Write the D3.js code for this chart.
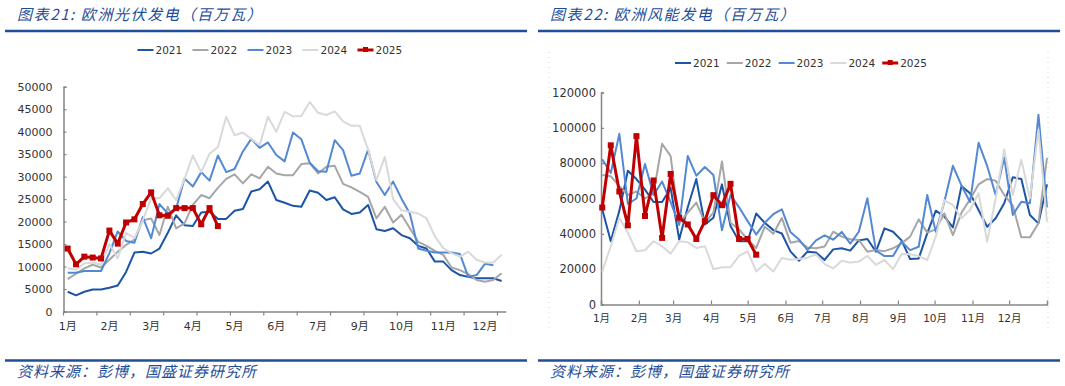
<!DOCTYPE html>
<html>
<head>
<meta charset="utf-8">
<script src="https://cdn.jsdelivr.net/npm/d3@7"></script>
<style>
body { margin: 0; background: #fff; }
svg text { font-family: "DejaVu Sans", "Noto Sans CJK SC", sans-serif; fill: #333; }
.cn { font-family: "Noto Sans CJK SC", sans-serif; font-style: italic; }
</style>
</head>
<body>
<svg id="chart" width="1065" height="386"></svg>
<script>
// Series names and colours
var yearNames = ["2021", "2022", "2023", "2024", "2025"];
var yearColors = ["#1c54a6", "#a6a6a6", "#5389d3", "#d9d9d9", "#c00000"];

// Solar (left): weekly values, MW
var solar2021 = [4400,3600,4400,4900,4900,5300,5800,8800,13100,13300,12900,14000,17500,21400,19200,19000,22000,22200,20600,20600,22400,22800,26700,27200,28900,24800,24200,23500,23300,26900,26400,24800,25400,22700,21700,22000,23700,18300,17900,18500,17000,16300,14600,14000,11100,11100,9200,8100,7700,7400,7400,7400,6800];
var solar2022 = [7200,8400,9600,10400,9800,11500,13300,14800,16000,20300,20700,17000,23300,18500,19600,23700,25900,25200,27500,29500,30500,28500,30500,29600,32200,30700,30300,30300,32800,33000,30700,32200,32400,28400,27600,26600,25500,20700,23300,19800,21500,18500,15500,14600,13500,12600,9800,9200,8300,7000,6600,7000,8500];
var solar2023 = [8600,8600,9000,9000,9000,13000,17800,15700,15300,21000,16300,23900,21800,22900,29600,27800,31000,29100,34700,31000,31700,35600,38400,36400,37600,34800,33400,39800,38300,33100,31200,31100,38100,35900,30200,30700,36000,28800,25900,28900,25100,21800,14000,13500,13100,13100,13100,12800,7700,8100,10600,10300];
var solar2024 = [9600,9300,10700,10900,10400,15000,11800,17500,16300,20300,25200,25200,27400,24800,29500,34700,31000,35100,36600,43300,39200,39800,38400,37000,43300,40000,44400,43400,43500,46600,44200,43700,44500,42300,41300,41300,36000,29200,34400,25000,22500,22200,21800,20700,16700,14100,13000,12200,13300,11500,10900,10900,12600];
var solar2025 = [14000,10500,12200,12000,11800,18000,15100,19800,20500,23900,26500,21400,21300,23000,23000,23000,19400,23000,19000];
var solarWeekCount = 53;
// category labels, one every 5 weeks
var solarTickLabels = ["1月","2月","3月","4月","5月","6月","7月","9月","10月","11月","12月"];
var solarYTicks = [0,5000,10000,15000,20000,25000,30000,35000,40000,45000,50000];

// Wind (right): weekly values, MW
var wind2021 = [53900,35800,53000,75700,71000,65000,58000,58000,66000,36800,55000,71000,45300,49100,68000,44400,35800,35800,51500,46300,42100,40200,30100,24800,29900,29500,25200,31200,31800,30500,36300,37100,29900,43100,41200,36300,25700,26100,40300,53100,49700,43600,67000,63000,53500,44000,48800,57300,72000,71000,50700,45900,68000];
var wind2022 = [73300,72600,67000,62000,64000,60000,63000,91000,84000,46000,52000,57700,46300,52000,81000,46300,42500,36800,32000,44000,40000,49000,35000,35900,32300,31800,32800,41200,38400,36900,36500,29900,30800,30200,31800,34600,38400,48200,40700,42500,51600,39300,51900,59500,68000,71000,70000,62000,56000,38000,38000,46000,83000];
var wind2023 = [82200,74400,96600,57000,60000,79500,62000,69600,58000,45000,84100,72900,77800,73300,42000,62000,55000,47200,39600,46300,51100,53900,41000,36800,30800,36300,39100,36700,41100,34500,41200,60100,30500,27400,27400,35600,30800,32700,62000,41100,58200,78500,67400,58000,91500,78500,62000,83200,50700,58200,57300,107400,55000];
var wind2024 = [18700,33000,49100,40600,30100,30700,35800,33000,28800,35800,35200,32000,33000,20000,21100,21100,27600,30100,18700,23000,18700,26300,25300,25700,26500,28400,22900,20400,24800,23700,24300,27500,22400,25200,20000,28600,28400,27400,25200,38400,59100,56300,48800,53500,63000,35500,60100,87800,62000,81900,60000,99000,46900];
var wind2025 = [54900,90100,64000,44800,95300,50100,70200,37700,73900,49100,45300,37100,47200,61900,56200,68300,37100,37100,28200];
var windFirstWeek = new Date(2025, 0, 2);
var windMonthLabels = ["1月","2月","3月","4月","5月","6月","7月","8月","9月","10月","11月","12月"];
var windYTicks = [0,20000,40000,60000,80000,100000,120000];

var titleColor = "#1f4e9a";
var axisColor = "#868686";

var svg = d3.select("#chart");

// Blue rules, title and source line of one panel
function drawFrame(x0, x1, title) {
    svg.append("line")
        .attr("x1", x0).attr("x2", x1).attr("y1", 31).attr("y2", 31)
        .attr("stroke", titleColor).attr("stroke-width", 2.5);
    svg.append("line")
        .attr("x1", x0).attr("x2", x1).attr("y1", 360.5).attr("y2", 360.5)
        .attr("stroke", titleColor).attr("stroke-width", 2.5);
    svg.append("text").attr("class", "cn")
        .attr("x", x0 + 12).attr("y", 20)
        .style("font-size", "15px").style("letter-spacing", "1.6px").style("fill", titleColor)
        .text(title);
    svg.append("text").attr("class", "cn")
        .attr("x", x0 + 12).attr("y", 377)
        .style("font-size", "15px").style("letter-spacing", "1px").style("fill", titleColor)
        .text("资料来源：彭博，国盛证券研究所");
}

// Legend row
function drawLegend(x, y, step) {
    var g = svg.append("g");
    yearNames.forEach(function(name, i) {
        var lx = x + i * step;
        g.append("line")
            .attr("x1", lx).attr("x2", lx + 16).attr("y1", y).attr("y2", y)
            .attr("stroke", yearColors[i]).attr("stroke-width", i == 4 ? 3 : 2);
        if (i == 4) {
            g.append("rect").attr("x", lx + 5.5).attr("y", y - 3).attr("width", 5).attr("height", 5)
                .attr("fill", yearColors[i]);
        }
        g.append("text")
            .attr("x", lx + 18).attr("y", y + 4)
            .style("font-size", "10.5px")
            .text(name);
    });
}

function styleAxis(g) {
    g.select(".domain").attr("stroke", axisColor).attr("stroke-width", 1.5);
    g.selectAll(".tick line").attr("stroke", axisColor).attr("stroke-width", 1.2);
}

// ---------- Left: solar ----------
drawFrame(5, 527, "图表21: 欧洲光伏发电（百万瓦）");
drawLegend(137.5, 50, 55);

var solarX = d3.scaleBand().domain(d3.range(solarWeekCount)).range([63.5, 505.8]);
var solarY = d3.scaleLinear().domain([0, 50000]).range([311.5, 86.7]);
var half = solarX.bandwidth() / 2;

svg.append("g")
    .attr("transform", "translate(63.5,0)")
    .call(d3.axisLeft(solarY).tickValues(solarYTicks).tickSize(-3).tickPadding(11).tickFormat(d3.format("d")))
    .call(styleAxis)
    .selectAll("text").style("font-size", "11px").style("fill", "#333");

// x axis: marks every 4 weeks, labels every 5 weeks
var solarLabelIdx = solarTickLabels.map(function(d, i) { return i * 5; });
var solarXAxis = svg.append("g").attr("transform", "translate(0,311.5)");
solarXAxis.call(d3.axisBottom(solarX).tickValues(solarLabelIdx).tickSize(0).tickPadding(11)
        .tickFormat(function(d, i) { return solarTickLabels[i]; }))
    .call(styleAxis)
    .selectAll("text").style("font-size", "11px").style("fill", "#333");
solarXAxis.selectAll(".tick line").remove();
solarXAxis.selectAll(".tick-mark")
    .data(d3.range(0, solarWeekCount, 4))
    .enter().append("line")
    .attr("x1", function(d) { return solarX(d); }).attr("x2", function(d) { return solarX(d); })
    .attr("y1", 0).attr("y2", 4)
    .attr("stroke", axisColor).attr("stroke-width", 1.2);

var solarLine = d3.line()
    .x(function(d, i) { return solarX(i) + half; })
    .y(function(d) { return solarY(d); });

[solar2021, solar2022, solar2023, solar2024, solar2025].forEach(function(s, i) {
    svg.append("path")
        .attr("d", solarLine(s))
        .attr("fill", "none")
        .attr("stroke", yearColors[i])
        .attr("stroke-width", i == 4 ? 3 : 2)
        .attr("stroke-linejoin", "round");
});
svg.selectAll(".solarMark")
    .data(solar2025)
    .enter().append("rect")
    .attr("x", function(d, i) { return solarX(i) + half - 3; })
    .attr("y", function(d) { return solarY(d) - 3; })
    .attr("width", 6).attr("height", 6)
    .attr("fill", yearColors[4]);

// ---------- Right: wind ----------
drawFrame(538, 1060, "图表22: 欧洲风能发电（百万瓦）");
drawLegend(675, 63, 51.8);

// faint dotted chart border
[549, 1048].forEach(function(x) {
    svg.append("line").attr("x1", x).attr("x2", x).attr("y1", 52).attr("y2", 330)
        .attr("stroke", "#d4d4d4").attr("stroke-dasharray", "1,4");
});

var windX = d3.scaleTime().domain([new Date(2025, 0, 1), new Date(2026, 0, 1)]).range([601, 1047]);
var windY = d3.scaleLinear().domain([0, 120000]).range([304.5, 92.5]);
var windMonths = d3.timeMonth.range(new Date(2025, 0, 1), new Date(2026, 0, 1));

svg.append("g")
    .attr("transform", "translate(601,0)")
    .call(d3.axisLeft(windY).tickValues(windYTicks).tickSize(-3).tickPadding(5).tickFormat(d3.format("d")))
    .call(styleAxis)
    .selectAll("text").style("font-size", "11.5px").style("fill", "#333");

svg.append("g")
    .attr("transform", "translate(0,304.5)")
    .call(d3.axisBottom(windX).tickValues(windMonths).tickSize(-4).tickPadding(10)
        .tickFormat(function(d) { return windMonthLabels[d.getMonth()]; }))
    .call(styleAxis)
    .selectAll("text").style("font-size", "10.5px").style("fill", "#333");

function weekDate(i) { return d3.timeDay.offset(windFirstWeek, i * 7); }

var windLine = d3.line()
    .x(function(d, i) { return windX(weekDate(i)); })
    .y(function(d) { return windY(d); });

[wind2021, wind2022, wind2023, wind2024, wind2025].forEach(function(s, i) {
    svg.append("path")
        .attr("d", windLine(s))
        .attr("fill", "none")
        .attr("stroke", yearColors[i])
        .attr("stroke-width", i == 4 ? 3 : 2)
        .attr("stroke-linejoin", "round");
});
svg.selectAll(".windMark")
    .data(wind2025)
    .enter().append("rect")
    .attr("x", function(d, i) { return windX(weekDate(i)) - 3; })
    .attr("y", function(d) { return windY(d) - 3; })
    .attr("width", 6).attr("height", 6)
    .attr("fill", yearColors[4]);
</script>
</body>
</html>
